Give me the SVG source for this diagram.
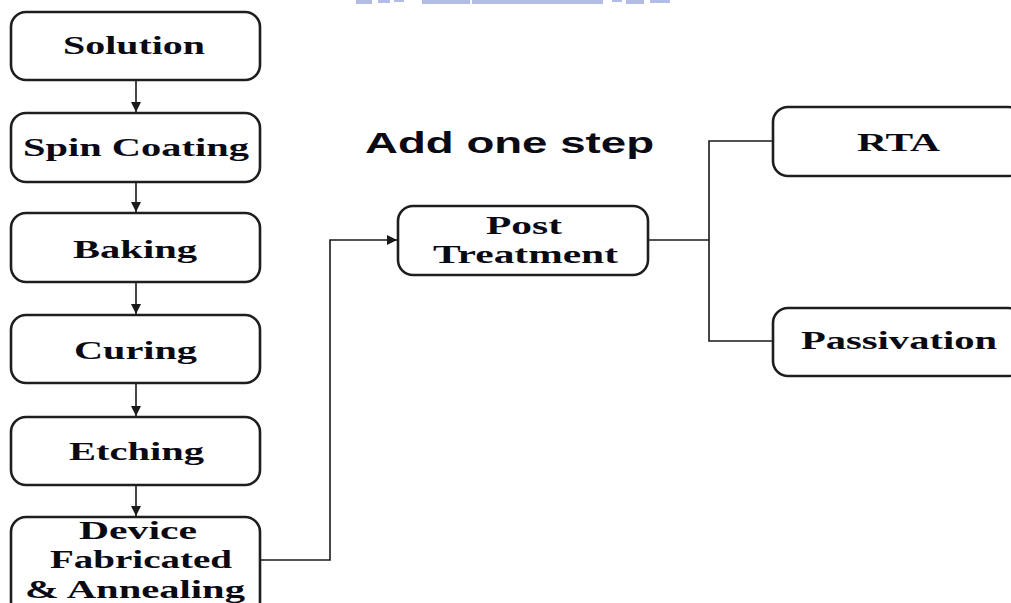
<svg xmlns="http://www.w3.org/2000/svg" width="1011" height="603" viewBox="0 0 1011 603">
  <style>
    .box { fill: #ffffff; stroke: #1e1e1e; stroke-width: 2.6; }
    .lbl { font-family: "Liberation Serif", "Times New Roman", serif; font-weight: bold; font-size: 25px; fill: #0a0a14; }
    .title { font-family: "Liberation Sans", Arial, sans-serif; font-weight: bold; font-size: 29px; fill: #0a0a14; }
    .wire { fill: none; stroke: #1a1a1a; stroke-width: 1.6; }
  </style>
  <defs>
    <marker id="arrowBig" viewBox="0 0 10 10" refX="10" refY="5" markerWidth="10" markerHeight="10" markerUnits="userSpaceOnUse" orient="auto">
      <path d="M0,0 L10,5 L0,10 z" fill="#1a1a1a"/>
    </marker>
  </defs>

  <rect width="1011" height="603" fill="#ffffff"/>

  <!-- faint banner strip along the top edge -->
  <g id="banner" fill="#b3bce6">
    <rect x="356" y="0" width="16" height="4"/>
    <rect x="378" y="0" width="12" height="3"/>
    <rect x="394" y="0" width="10" height="2"/>
    <rect x="422" y="0" width="48" height="4"/>
    <rect x="472" y="0" width="131" height="4"/>
    <rect x="612" y="0" width="10" height="2"/>
    <rect x="626" y="0" width="18" height="4"/>
    <rect x="650" y="0" width="20" height="3"/>
  </g>

  <g id="connectors">
    <line class="wire" x1="136" y1="80" x2="136" y2="112" marker-end="url(#arrowBig)"/>
    <line class="wire" x1="136" y1="182" x2="136" y2="212" marker-end="url(#arrowBig)"/>
    <line class="wire" x1="136" y1="282" x2="136" y2="314" marker-end="url(#arrowBig)"/>
    <line class="wire" x1="136" y1="383" x2="136" y2="416" marker-end="url(#arrowBig)"/>
    <line class="wire" x1="136" y1="485" x2="136" y2="516" marker-end="url(#arrowBig)"/>
    <polyline class="wire" points="260,560 330,560 330,240 397,240" marker-end="url(#arrowBig)"/>
    <line class="wire" x1="648" y1="240" x2="709" y2="240"/>
    <polyline class="wire" points="773,141 709,141 709,341 773,341"/>
  </g>

  <text id="caption" class="title" x="365" y="153" textLength="289" lengthAdjust="spacingAndGlyphs">Add one step</text>

  <g id="solution">
    <rect class="box" x="11" y="12" width="249" height="68" rx="15"/>
    <text class="lbl" x="63" y="54" textLength="142" lengthAdjust="spacingAndGlyphs">Solution</text>
  </g>
  <g id="spin-coating">
    <rect class="box" x="11" y="113" width="249" height="69" rx="15"/>
    <text class="lbl" x="23" y="156" textLength="226" lengthAdjust="spacingAndGlyphs">Spin Coating</text>
  </g>
  <g id="baking">
    <rect class="box" x="11" y="213" width="249" height="69" rx="15"/>
    <text class="lbl" x="73" y="258" textLength="124" lengthAdjust="spacingAndGlyphs">Baking</text>
  </g>
  <g id="curing">
    <rect class="box" x="11" y="315" width="249" height="68" rx="15"/>
    <text class="lbl" x="74" y="359" textLength="123" lengthAdjust="spacingAndGlyphs">Curing</text>
  </g>
  <g id="etching">
    <rect class="box" x="11" y="417" width="249" height="68" rx="15"/>
    <text class="lbl" x="69" y="460" textLength="135" lengthAdjust="spacingAndGlyphs">Etching</text>
  </g>
  <g id="device">
    <rect class="box" x="11" y="517" width="249" height="100" rx="15"/>
    <text class="lbl" x="79" y="539" textLength="118" lengthAdjust="spacingAndGlyphs">Device</text>
    <text class="lbl" x="50" y="568" textLength="182" lengthAdjust="spacingAndGlyphs">Fabricated</text>
    <text class="lbl" x="25" y="598" textLength="220" lengthAdjust="spacingAndGlyphs">&amp; Annealing</text>
  </g>
  <g id="post-treatment">
    <rect class="box" x="398" y="206" width="250" height="69" rx="15"/>
    <text class="lbl" x="486" y="234" textLength="76" lengthAdjust="spacingAndGlyphs">Post</text>
    <text class="lbl" x="433" y="263" textLength="185" lengthAdjust="spacingAndGlyphs">Treatment</text>
  </g>
  <g id="rta">
    <rect class="box" x="773" y="107" width="250" height="69" rx="15"/>
    <text class="lbl" x="857" y="151" textLength="83" lengthAdjust="spacingAndGlyphs">RTA</text>
  </g>
  <g id="passivation">
    <rect class="box" x="773" y="308" width="250" height="68" rx="15"/>
    <text class="lbl" x="801" y="349" textLength="196" lengthAdjust="spacingAndGlyphs">Passivation</text>
  </g>
</svg>
